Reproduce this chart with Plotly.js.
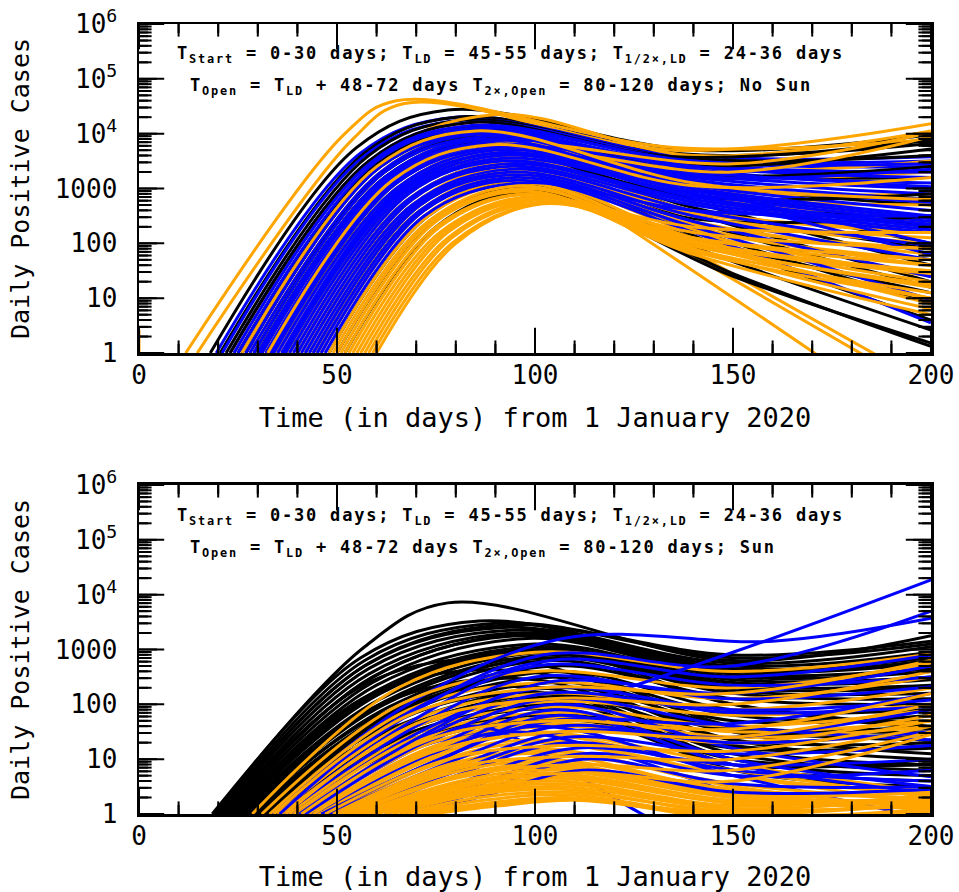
<!DOCTYPE html>
<html>
<head>
<meta charset="utf-8">
<script src="https://cdn.plot.ly/plotly-3.0.1.min.js"></script>
<style>
html,body{margin:0;padding:0;background:#fff;}
#chart{width:959px;height:892px;}
.annotation-text{letter-spacing:1.8px;}
</style>
</head>
<body>
<div id="chart"></div>
<script>
// ---------------- DATA ----------------
const xTickVals = [0, 50, 100, 150, 200];
const xTickText = ['0', '50', '100', '150', '200'];
const yTickVals = [1, 10, 100, 1000, 1e4, 1e5, 1e6];
const yTickText = ['1', '10', '100', '1000', '10<sup>4</sup>', '10<sup>5</sup>', '10<sup>6</sup>'];

// Each curve row: [startDay, kneeDay, log10(kneeCases), peakDay, log10(peakCases), lateDay, log10(lateCases), log10(casesAtEndDay)]
const startLog = 0;
const endDay = 200;

// Top panel: No Sun
const noSunBlack = [
  [18, 55, 3.75, 78, 4.43, 140, 3.7, 3.98],
  [20.5, 57, 3.65, 80, 4.3, 140, 3.62, 3.82],
  [22, 58, 3.6, 82, 4.25, 138, 3.55, 3.6],
  [23, 58, 3.5, 83, 4.2, 135, 3.58, 3.88],
  [25, 59, 3.4, 84, 4.1, 140, 3.3, 3.2],
  [26, 60, 3.4, 85, 4.05, 140, 3.42, 3.72],
  [27, 61, 3.4, 86, 4.0, 140, 3.1, 2.7],
  [29, 62, 3.3, 88, 3.95, 140, 3.0, 2.3],
  [30, 62, 3.2, 88, 3.9, 140, 3.25, 3.4],
  [31, 63, 3.2, 90, 3.85, 140, 2.9, 2.0],
  [33, 64, 3.1, 90, 3.8, 140, 2.75, 1.6],
  [34, 65, 3.1, 91, 3.75, 140, 2.65, 1.9],
  [35, 65, 3.0, 92, 3.7, 140, 2.55, 1.3],
  [37, 67, 3.0, 92, 3.6, 140, 2.4, 1.2],
  [38, 67, 2.9, 93, 3.55, 140, 2.85, 2.9],
  [40, 68, 2.8, 94, 3.45, 140, 2.25, 0.9],
  [42, 69, 2.7, 95, 3.35, 145, 2.0, 0.6],
  [44, 71, 2.7, 96, 3.3, 140, 2.45, 2.5],
  [45, 71, 2.6, 96, 3.2, 145, 1.8, 0.42],
  [48, 73, 2.5, 97, 3.1, 150, 1.45, 0.12],
  [50, 74, 2.4, 97, 3.0, 150, 1.4, 0.18],
  [52, 75, 2.3, 98, 2.95, 145, 2.0, 1.1]
];
const noSunOrange = [
  [11.8, 52, 4.0, 65, 4.6, 135, 3.75, 3.9],
  [14.7, 54, 3.9, 67, 4.55, 135, 3.7, 4.18],
  [24, 59, 3.5, 90, 4.35, 140, 3.6, 4.05],
  [25, 60, 3.5, 84, 4.15, 140, 3.35, 3.5],
  [27, 61, 3.4, 86, 4.0, 118, 2.55, -1.45],
  [28, 61, 3.3, 86, 4.0, 140, 3.25, 3.3],
  [29, 62, 3.3, 87, 3.95, 120, 2.6, -0.75],
  [30, 62, 3.2, 88, 3.9, 120, 2.65, -0.6],
  [31, 63, 3.2, 88, 3.85, 140, 3.0, 2.9],
  [32, 64, 3.2, 89, 3.8, 140, 2.9, 2.7],
  [33, 64, 3.1, 89, 3.8, 150, 3.45, 4.02],
  [34, 65, 3.1, 90, 3.75, 140, 2.85, 2.5],
  [35, 65, 3.0, 90, 3.7, 140, 2.75, 2.4],
  [36, 66, 3.0, 91, 3.7, 150, 3.3, 3.95],
  [37, 66, 2.9, 92, 3.6, 140, 2.6, 2.2],
  [38, 67, 2.9, 92, 3.55, 140, 2.5, 2.0],
  [39, 68, 2.9, 92, 3.5, 140, 2.55, 2.3],
  [40, 68, 2.8, 93, 3.45, 140, 2.4, 1.8],
  [41, 69, 2.8, 93, 3.45, 140, 2.5, 2.1],
  [42, 69, 2.7, 94, 3.4, 140, 2.3, 1.6],
  [43, 70, 2.7, 94, 3.35, 140, 2.35, 1.9],
  [44, 71, 2.7, 95, 3.3, 140, 2.2, 1.4],
  [45, 71, 2.6, 95, 3.25, 140, 2.25, 1.7],
  [46, 72, 2.6, 96, 3.2, 140, 2.1, 1.3],
  [47, 72, 2.5, 96, 3.15, 140, 2.0, 1.0],
  [48, 73, 2.5, 97, 3.1, 140, 2.05, 1.5],
  [49, 73, 2.4, 97, 3.05, 140, 1.9, 0.8],
  [50, 74, 2.4, 98, 3.0, 140, 2.0, 1.2],
  [51, 75, 2.4, 98, 2.95, 140, 1.9, 1.1],
  [52, 75, 2.3, 99, 2.9, 140, 1.8, 0.7],
  [53, 76, 2.3, 99, 2.9, 140, 2.0, 1.45],
  [54, 76, 2.2, 100, 2.85, 140, 1.85, 1.0],
  [55, 77, 2.2, 100, 2.85, 140, 2.1, 1.6],
  [56, 78, 2.2, 100, 2.8, 140, 1.95, 1.25],
  [57, 78, 2.1, 101, 2.8, 140, 2.2, 1.9],
  [58, 79, 2.1, 101, 2.75, 140, 2.0, 0.9],
  [59, 79, 2.0, 102, 2.75, 140, 2.3, 2.2],
  [60, 80, 2.0, 102, 2.72, 140, 2.1, 1.7],
  [26, 60, 3.4, 85, 4.05, 140, 3.1, 2.8],
  [32.5, 64, 3.15, 89, 3.8, 140, 3.05, 3.2]
];
const noSunBlue = [
  [19.5, 56, 3.65, 80, 4.3, 140, 3.6, 3.58],
  [21, 57, 3.6, 82, 4.25, 140, 3.55, 3.5],
  [23, 58, 3.5, 83, 4.2, 140, 3.5, 3.4],
  [24, 59, 3.5, 84, 4.15, 140, 3.45, 3.3],
  [25, 60, 3.5, 84, 4.1, 140, 3.5, 3.45],
  [26, 60, 3.4, 85, 4.05, 140, 3.4, 3.2],
  [28, 61, 3.3, 86, 4.0, 140, 3.35, 3.03],
  [29, 62, 3.3, 87, 3.95, 140, 3.4, 3.3],
  [30, 62, 3.2, 88, 3.9, 140, 3.3, 3.1],
  [31, 63, 3.2, 88, 3.85, 140, 3.25, 3.0],
  [32, 64, 3.2, 89, 3.8, 140, 3.2, 2.9],
  [33, 64, 3.1, 89, 3.8, 140, 3.15, 2.8],
  [34, 65, 3.1, 90, 3.75, 140, 3.1, 2.75],
  [35, 65, 3.0, 90, 3.7, 140, 3.05, 2.6],
  [36, 66, 3.0, 91, 3.65, 140, 3.0, 2.5],
  [37, 66, 2.9, 91, 3.6, 140, 2.95, 2.45],
  [38, 67, 2.9, 92, 3.55, 140, 2.9, 2.4],
  [39, 68, 2.9, 92, 3.5, 140, 2.8, 2.3],
  [40, 68, 2.8, 93, 3.45, 140, 2.75, 2.25],
  [41, 69, 2.8, 93, 3.4, 140, 2.7, 2.2],
  [42, 69, 2.7, 94, 3.35, 140, 2.6, 1.95],
  [43, 70, 2.7, 94, 3.3, 140, 2.5, 1.7],
  [44, 71, 2.7, 95, 3.25, 140, 2.4, 1.39],
  [45, 71, 2.6, 95, 3.2, 140, 2.3, 0.97],
  [46, 72, 2.6, 96, 3.15, 140, 2.2, 0.55],
  [47, 72, 2.5, 96, 3.1, 140, 2.6, 2.5],
  [27, 61, 3.4, 86, 4.0, 140, 3.0, 2.0],
  [30.5, 63, 3.25, 88, 3.9, 140, 2.9, 1.8],
  [33.5, 64, 3.05, 90, 3.75, 140, 3.2, 3.35],
  [36.5, 66, 2.95, 91, 3.65, 140, 2.85, 2.35]
];
const noSunDayZeroDays = [0, 0];
const noSunDayZeroCases = [1, 2.6];

// Bottom panel: Sun
const sunBlack = [
  [18.5, 57, 3.05, 78, 3.85, 150, 2.8, 3.25],
  [19, 56, 2.85, 86, 3.52, 150, 2.75, 3.05],
  [19.5, 57, 2.8, 90, 3.48, 150, 2.9, 3.15],
  [20, 57, 2.7, 92, 3.4, 150, 2.7, 2.95],
  [20.5, 58, 2.65, 94, 3.35, 150, 2.65, 2.85],
  [21, 58, 2.55, 95, 3.3, 150, 2.6, 2.75],
  [22, 59, 2.5, 96, 3.25, 150, 2.55, 2.65],
  [22.5, 59, 2.4, 98, 3.2, 150, 2.5, 2.6],
  [23, 60, 2.35, 100, 3.1, 150, 2.45, 2.5],
  [24, 60, 2.25, 100, 3.05, 150, 2.4, 2.45],
  [24.5, 61, 2.2, 102, 3.0, 150, 2.35, 2.35],
  [25, 61, 2.1, 103, 2.95, 150, 2.3, 2.3],
  [26, 62, 2.05, 104, 2.9, 150, 2.25, 2.2],
  [26.5, 62, 2.0, 104, 2.85, 150, 2.2, 2.1],
  [27, 63, 1.95, 105, 2.8, 150, 2.0, 1.6],
  [28, 63, 1.85, 105, 2.7, 150, 2.1, 2.0],
  [28.5, 64, 1.8, 106, 2.6, 150, 1.9, 1.9],
  [29, 64, 1.75, 106, 2.5, 150, 1.8, 1.7],
  [30, 65, 1.7, 107, 2.4, 150, 1.7, 1.8],
  [30.5, 65, 1.6, 108, 2.3, 150, 1.6, 1.5],
  [31, 66, 1.55, 108, 2.2, 150, 1.5, 1.45],
  [32, 66, 1.5, 110, 2.1, 150, 1.35, 1.3],
  [33, 67, 1.45, 110, 2.0, 150, 1.25, 1.2],
  [21.5, 58, 2.4, 95, 2.8, 150, 1.5, 1.1],
  [23.5, 59, 2.2, 98, 2.6, 150, 1.35, 1.0],
  [25.5, 61, 2.0, 100, 2.45, 150, 1.2, 0.9],
  [27.5, 62, 1.85, 102, 2.3, 150, 1.1, 0.8],
  [29.5, 64, 1.7, 104, 2.2, 150, 1.0, 0.7],
  [31.5, 65, 1.55, 106, 2.05, 150, 0.9, 0.6],
  [33.5, 67, 1.4, 108, 1.9, 150, 0.8, 0.5],
  [34, 68, 1.35, 110, 1.8, 150, 1.0, 0.9],
  [35, 69, 1.3, 112, 1.7, 150, 0.9, 1.0],
  [20, 58, 2.75, 93, 3.45, 150, 2.85, 3.1],
  [22, 58, 2.45, 97, 3.28, 150, 2.6, 2.8],
  [24, 60, 2.2, 101, 3.0, 150, 2.0, 1.55],
  [28, 63, 1.8, 105, 2.6, 150, 1.6, 1.35],
  [32, 66, 1.5, 108, 2.15, 150, 1.55, 1.6],
  [36, 70, 1.3, 112, 1.75, 150, 1.2, 1.25]
];
const sunOrange = [
  [28.6, 66, 2.32, 100, 2.95, 150, 2.6, 2.92],
  [31, 66, 2.0, 100, 2.6, 150, 2.3, 2.75],
  [33, 68, 1.9, 102, 2.4, 150, 2.1, 2.5],
  [35, 69, 1.7, 103, 2.2, 150, 1.9, 2.3],
  [36, 70, 1.6, 104, 2.05, 150, 1.8, 2.0],
  [38, 71, 1.5, 104, 1.95, 150, 1.6, 1.9],
  [39, 72, 1.45, 105, 1.85, 150, 1.5, 1.7],
  [40, 73, 1.4, 105, 1.75, 150, 1.4, 1.6],
  [42, 74, 1.3, 106, 1.65, 150, 1.3, 1.5],
  [43, 75, 1.25, 106, 1.6, 150, 1.3, 1.8],
  [44, 75, 1.2, 100, 1.5, 150, 0.9, 0.4],
  [45, 76, 1.1, 100, 1.45, 150, 0.8, 0.3],
  [46, 76, 1.05, 101, 1.35, 150, 0.7, 0.2],
  [47, 77, 1.0, 101, 1.3, 150, 0.7, 0.35],
  [48, 77, 0.95, 102, 1.2, 150, 0.5, 0.1],
  [49, 78, 0.9, 102, 1.15, 150, 0.55, 0.25],
  [50, 78, 0.85, 102, 1.1, 150, 0.4, 0.15],
  [51, 79, 0.8, 103, 1.0, 150, 0.45, 0.3],
  [52, 79, 0.75, 103, 0.95, 150, 0.35, 0.2],
  [53, 80, 0.7, 103, 0.9, 150, 0.3, 0.1],
  [54, 80, 0.65, 104, 0.85, 150, 0.35, 0.4],
  [55, 81, 0.6, 104, 0.8, 150, 0.3, 0.25],
  [56, 81, 0.55, 104, 0.75, 150, 0.25, 0.3],
  [57, 82, 0.5, 105, 0.7, 150, 0.2, 0.3],
  [58, 82, 0.45, 105, 0.65, 150, 0.2, 0.25],
  [59, 83, 0.42, 105, 0.6, 150, 0.15, 0.35],
  [60, 83, 0.4, 106, 0.55, 150, 0.1, 0.15],
  [62, 84, 0.38, 106, 0.5, 150, 0.1, 0.3],
  [64, 85, 0.35, 107, 0.45, 150, 0.0, 0.05],
  [66, 86, 0.3, 107, 0.4, 150, 0.05, 0.2],
  [68, 87, 0.25, 108, 0.35, 150, -0.05, 0.1],
  [70, 88, 0.2, 108, 0.3, 150, -0.1, -0.1],
  [34, 68, 1.8, 102, 2.3, 150, 2.2, 2.8],
  [37, 70, 1.65, 104, 2.1, 150, 2.0, 2.6],
  [41, 73, 1.35, 105, 1.7, 150, 1.55, 2.2],
  [44, 75, 1.15, 106, 1.5, 150, 1.4, 2.0],
  [47, 78, 1.0, 108, 1.25, 150, 1.15, 1.7],
  [50, 80, 0.85, 109, 1.05, 150, 1.0, 1.6],
  [53, 81, 0.7, 110, 0.9, 150, 0.8, 1.5],
  [56, 83, 0.55, 112, 0.75, 150, 0.6, 1.45],
  [72, 90, 0.18, 109, 0.28, 150, 0.0, 0.2],
  [74, 91, 0.15, 110, 0.25, 150, -0.05, 0.0]
];
const sunBlue = [
  [33.7, 67, 1.96, 107, 3.2, 160, 3.15, 3.57],
  [38, 72, 1.25, 90, 1.55, 150, 2.95, 4.27],
  [35, 68, 1.8, 102, 2.9, 150, 2.7, 3.7],
  [36, 69, 1.7, 100, 2.7, 150, 2.35, 2.5],
  [37, 70, 1.6, 100, 2.5, 150, 2.1, 2.32],
  [39, 71, 1.5, 102, 2.3, 150, 1.9, 2.08],
  [40, 72, 1.4, 103, 2.2, 150, 1.85, 1.96],
  [41, 73, 1.3, 104, 2.1, 150, 1.6, 1.35],
  [43, 74, 1.2, 105, 2.0, 150, 1.2, 0.68],
  [44, 75, 1.1, 105, 1.9, 150, 1.0, 0.5],
  [46, 76, 1.0, 106, 1.8, 150, 0.9, 0.38],
  [42, 72, 1.3, 86, 1.6, 127, 0.0, -2.85],
  [44, 74, 1.1, 95, 1.5, 165, 0.0, -0.8],
  [46, 76, 1.0, 100, 1.6, 150, 0.7, -0.1],
  [48, 77, 0.9, 106, 1.6, 150, 1.3, 1.5],
  [50, 78, 0.8, 107, 1.5, 150, 1.4, 1.9],
  [52, 79, 0.75, 108, 1.4, 150, 1.1, 1.25],
  [55, 80, 0.7, 108, 1.3, 150, 0.8, 0.6],
  [58, 82, 0.6, 110, 1.2, 150, 0.9, 1.0],
  [62, 84, 0.5, 112, 1.1, 150, 0.7, 0.8],
  [66, 86, 0.4, 112, 1.0, 150, 0.55, 0.5],
  [35.5, 68, 1.85, 104, 2.8, 150, 2.5, 2.9],
  [40.5, 72, 1.45, 103, 2.4, 150, 2.2, 2.7],
  [47, 76, 1.0, 104, 1.7, 150, 1.65, 2.2],
  [70, 88, 0.35, 112, 0.8, 150, 0.4, 0.45]
];

const xTitle = 'Time (in days) from 1 January 2020';
const yTitle = 'Daily Positive Cases';
const noteLine1 = 'T<sub>Start</sub> = 0-30 days; T<sub>LD</sub> = 45-55 days; T<sub>1/2×,LD</sub> = 24-36 days';
const noteLine2NoSun = 'T<sub>Open</sub> = T<sub>LD</sub> + 48-72 days T<sub>2×,Open</sub> = 80-120 days; No Sun';
const noteLine2Sun = 'T<sub>Open</sub> = T<sub>LD</sub> + 48-72 days T<sub>2×,Open</sub> = 80-120 days; Sun';

// ---------------- STYLE ----------------
const COLORS = {black: '#000000', orange: '#FFA500', blue: '#0000FF'};
const FONT = 'DejaVu Sans Mono';
const LW = 3;
const TOP_DOMAIN = [0.5835, 1];
const BOT_DOMAIN = [0, 0.4165];
const X_RANGE = [0, 200];
const Y_RANGE = [0, 6];             // log10 units
const PLOT_W = 792, PANEL_H = 329;  // plot-area size in px
const MAJOR_LEN = 18, MINOR_LEN = 9;

function curveTrace(row, color, xa, ya) {
  const days = [row[0], row[1], row[3], row[5], endDay];
  const logs = [startLog, row[2], row[4], row[6], row[7]];
  return {
    type: 'scatter', mode: 'lines',
    x: days, y: logs.map(v => Math.pow(10, v)),
    xaxis: xa, yaxis: ya,
    line: {color: color, width: LW, shape: 'spline', smoothing: 1},
    hoverinfo: 'skip', showlegend: false
  };
}

const traces = [];
const nTop = Math.max(noSunBlack.length, noSunOrange.length, noSunBlue.length);
for (let i = 0; i < nTop; i++) {
  if (i < noSunBlack.length) traces.push(curveTrace(noSunBlack[i], COLORS.black, 'x', 'y'));
  if (i < noSunOrange.length) traces.push(curveTrace(noSunOrange[i], COLORS.orange, 'x', 'y'));
  if (i < noSunBlue.length) traces.push(curveTrace(noSunBlue[i], COLORS.blue, 'x', 'y'));
}
traces.push({type: 'scatter', mode: 'lines', x: noSunDayZeroDays, y: noSunDayZeroCases,
  xaxis: 'x', yaxis: 'y', line: {color: COLORS.orange, width: LW}, hoverinfo: 'skip', showlegend: false});
sunBlack.forEach(r => traces.push(curveTrace(r, COLORS.black, 'x2', 'y2')));
const nBot = Math.max(sunOrange.length, sunBlue.length);
for (let i = 0; i < nBot; i++) {
  if (i < sunOrange.length) traces.push(curveTrace(sunOrange[i], COLORS.orange, 'x2', 'y2'));
  if (i < sunBlue.length) traces.push(curveTrace(sunBlue[i], COLORS.blue, 'x2', 'y2'));
}

// ---- inward tick marks (axis decoration) ----
const minorX = [];
for (let d = 10; d < 200; d += 10) if (d % 50 !== 0) minorX.push(d);
const minorY = [];
for (let e = 0; e < 6; e++) for (let m = 2; m < 10; m++) minorY.push(m * Math.pow(10, e));

function tickTrace(xa, ya) {
  const xs = [], ys = [];
  const decPerPx = (Y_RANGE[1] - Y_RANGE[0]) / PANEL_H;
  const dayPerPx = (X_RANGE[1] - X_RANGE[0]) / PLOT_W;
  const yLo = Math.pow(10, Y_RANGE[0]), yHi = Math.pow(10, Y_RANGE[1]);
  const xt = (v, len) => {
    const d = len * decPerPx;
    xs.push(v, v, null, v, v, null);
    ys.push(yLo, Math.pow(10, Y_RANGE[0] + d), null, yHi, Math.pow(10, Y_RANGE[1] - d), null);
  };
  const yt = (v, len) => {
    const d = len * dayPerPx;
    xs.push(X_RANGE[0], X_RANGE[0] + d, null, X_RANGE[1], X_RANGE[1] - d, null);
    ys.push(v, v, null, v, v, null);
  };
  xTickVals.forEach(v => xt(v, MAJOR_LEN));
  minorX.forEach(v => xt(v, MINOR_LEN));
  yTickVals.forEach(v => yt(v, MAJOR_LEN));
  minorY.forEach(v => yt(v, MINOR_LEN));
  return {type: 'scatter', mode: 'lines', x: xs, y: ys, xaxis: xa, yaxis: ya,
    connectgaps: false, line: {color: '#000', width: 2}, hoverinfo: 'skip', showlegend: false};
}
// the same ticks as edge-centred line markers (outer half is clipped by the frame)
function tickMarkerTrace(xa, ya, xs, ys, symbol, len) {
  return {type: 'scatter', mode: 'markers', x: xs, y: ys, xaxis: xa, yaxis: ya, cliponaxis: true,
    marker: {symbol: symbol, size: 2 * len, color: '#000', line: {color: '#000', width: 2}},
    hoverinfo: 'skip', showlegend: false};
}
function tickMarkers(xa, ya) {
  const yLo = Math.pow(10, Y_RANGE[0]), yHi = Math.pow(10, Y_RANGE[1]);
  const edgeX = (vals) => vals.map(() => yLo).concat(vals.map(() => yHi));
  const edgeY = (vals) => vals.map(() => X_RANGE[0]).concat(vals.map(() => X_RANGE[1]));
  return [
    tickMarkerTrace(xa, ya, xTickVals.concat(xTickVals), edgeX(xTickVals), 'line-ns', MAJOR_LEN),
    tickMarkerTrace(xa, ya, minorX.concat(minorX), edgeX(minorX), 'line-ns', MINOR_LEN),
    tickMarkerTrace(xa, ya, edgeY(yTickVals), yTickVals.concat(yTickVals), 'line-ew', MAJOR_LEN),
    tickMarkerTrace(xa, ya, edgeY(minorY), minorY.concat(minorY), 'line-ew', MINOR_LEN)
  ];
}
traces.push(tickTrace('x', 'y'));
traces.push(tickTrace('x2', 'y2'));
tickMarkers('x', 'y').forEach(t => traces.push(t));
tickMarkers('x2', 'y2').forEach(t => traces.push(t));

function tickFont() { return {family: FONT, size: 26, color: '#000'}; }
function xAxis(anchor, standoff) {
  return {
    anchor: anchor, domain: [0, 1], range: X_RANGE, type: 'linear',
    showgrid: false, zeroline: false, showline: true, linecolor: '#000', linewidth: 2.5, mirror: true,
    ticks: '', tickmode: 'array', tickvals: xTickVals, ticktext: xTickText,
    tickfont: tickFont(), ticklabelstandoff: -3,
    title: {text: xTitle, font: {family: FONT, size: 27, color: '#000'}, standoff: standoff}
  };
}
function yAxis(anchor, domain) {
  return {
    anchor: anchor, domain: domain, type: 'log', range: Y_RANGE,
    showgrid: false, zeroline: false, showline: true, linecolor: '#000', linewidth: 2.5, mirror: true,
    ticks: '', tickmode: 'array', tickvals: yTickVals, ticktext: yTickText,
    tickfont: tickFont(), ticklabelstandoff: 14,
    title: {text: yTitle, font: {family: FONT, size: 25, color: '#000'}, standoff: 18}
  };
}

function note(text, x, y) {
  return {text: text, xref: 'paper', yref: 'paper', x: x, y: y, xanchor: 'left', yanchor: 'middle',
    showarrow: false, font: {family: FONT, size: 17, color: '#000', weight: 'bold'}};
}

const layout = {
  width: 959, height: 892,
  margin: {l: 139, r: 28, t: 24, b: 78, pad: 0},
  paper_bgcolor: '#ffffff', plot_bgcolor: '#ffffff',
  showlegend: false, hovermode: false,
  xaxis: xAxis('y', 20), yaxis: yAxis('x', TOP_DOMAIN),
  xaxis2: xAxis('y2', 23), yaxis2: yAxis('x2', BOT_DOMAIN),
  annotations: [
    note(noteLine1, 0.0455, 0.962),
    note(noteLine2NoSun, 0.0619, 0.9203),
    note(noteLine1, 0.0455, 0.3772),
    note(noteLine2Sun, 0.0619, 0.3367)
  ]
};

Plotly.newPlot('chart', traces, layout, {staticPlot: true, displayModeBar: false});
</script>
</body>
</html>
